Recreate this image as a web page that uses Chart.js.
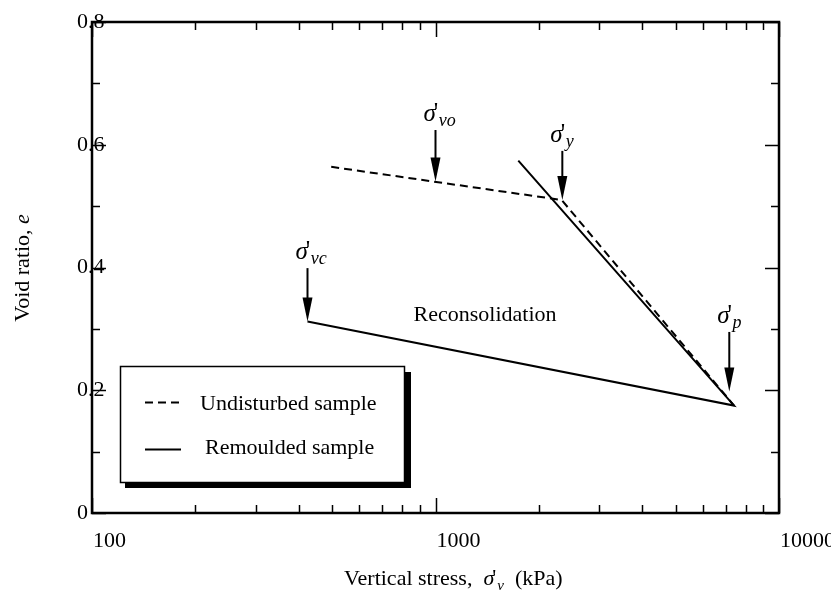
<!DOCTYPE html>
<html>
<head>
<meta charset="utf-8">
<script src="https://cdn.jsdelivr.net/npm/chart.js@4"></script>
<style>
  html, body { margin: 0; padding: 0; background: #fff; }
  #wrap { width: 831px; height: 594px; position: relative; }
</style>
</head>
<body>
<div id="wrap"><canvas id="grafico"></canvas></div>
<script>
// datos
const undisturbedX = [497, 2330, 7400];
const undisturbedY = [0.564, 0.510, 0.175];
const remouldedX = [1742, 7400, 424];
const remouldedY = [0.574, 0.175, 0.312];

const xTicks = [100, 1000, 10000];
const xTickLabels = ['100', '1000', '10000'];
const xMinor = [200, 300, 400, 500, 600, 700, 800, 900, 2000, 3000, 4000, 5000, 6000, 7000, 8000, 9000];
const yTicks = [0, 0.2, 0.4, 0.6, 0.8];
const yTickLabels = ['0', '0.2', '0.4', '0.6', '0.8'];
const yMinor = [0.1, 0.3, 0.5, 0.7];

// flechas: sigma'_sub
const arrowSubs = ['vo', 'y', 'vc', 'p'];
const arrowX = [1000, 2340, 424, 7166];
const arrowTipY = [0.540, 0.510, 0.312, 0.198];
const arrowTailY = [0.624, 0.590, 0.399, 0.295];

const SERIF = '"Liberation Serif", "DejaVu Serif", serif';

function puntos(xs, ys) {
    return xs.map((x, i) => ({ x: x, y: ys[i] }));
}

function dibujarSigma(ctx, x, y, sub, size) {
    ctx.textAlign = 'left';
    ctx.textBaseline = 'alphabetic';
    ctx.font = 'italic ' + size + 'px ' + SERIF;
    ctx.fillText('σ', x, y);
    const w = ctx.measureText('σ').width;
    ctx.font = size + 'px ' + SERIF;
    ctx.fillText('\'', x + w - 2, y - 1);
    ctx.font = 'italic ' + Math.round(size * 0.7) + 'px ' + SERIF;
    ctx.fillText(sub, x + w + 3, y + 5);
    return x + w + 3 + ctx.measureText(sub).width;
}

const marcoPlugin = {
    id: 'marco',
    afterDatasetsDraw(chart) {
        const ctx = chart.ctx;
        const xs = chart.scales.x;
        const ys = chart.scales.y;
        const a = chart.chartArea;
        ctx.save();
        ctx.fillStyle = '#000';
        ctx.strokeStyle = '#000';

        // marco
        ctx.lineWidth = 2.5;
        ctx.strokeRect(a.left, a.top, a.right - a.left, a.bottom - a.top);

        // marcas
        ctx.lineWidth = 1.5;
        ctx.beginPath();
        xMinor.forEach(v => {
            const px = Math.round(xs.getPixelForValue(v)) + 0.5;
            ctx.moveTo(px, a.bottom); ctx.lineTo(px, a.bottom - 8);
            ctx.moveTo(px, a.top); ctx.lineTo(px, a.top + 8);
        });
        xTicks.forEach(v => {
            const px = Math.round(xs.getPixelForValue(v)) + 0.5;
            ctx.moveTo(px, a.bottom); ctx.lineTo(px, a.bottom - 15);
            ctx.moveTo(px, a.top); ctx.lineTo(px, a.top + 15);
        });
        yMinor.forEach(v => {
            const py = Math.round(ys.getPixelForValue(v)) + 0.5;
            ctx.moveTo(a.left, py); ctx.lineTo(a.left + 8, py);
            ctx.moveTo(a.right, py); ctx.lineTo(a.right - 8, py);
        });
        yTicks.forEach(v => {
            const py = Math.round(ys.getPixelForValue(v)) + 0.5;
            ctx.moveTo(a.left, py); ctx.lineTo(a.left + 14, py);
            ctx.moveTo(a.right, py); ctx.lineTo(a.right - 14, py);
        });
        ctx.stroke();

        // etiquetas de ejes
        ctx.font = '22px ' + SERIF;
        ctx.textAlign = 'left';
        ctx.textBaseline = 'top';
        xTicks.forEach((v, i) => {
            ctx.fillText(xTickLabels[i], xs.getPixelForValue(v) + 1, a.bottom + 17);
        });
        ctx.textBaseline = 'middle';
        yTicks.forEach((v, i) => {
            ctx.fillText(yTickLabels[i], a.left - 15, ys.getPixelForValue(v));
        });

        // titulo eje x
        ctx.textBaseline = 'alphabetic';
        const partes1 = 'Vertical stress,  ';
        const partes2 = '  (kPa)';
        ctx.font = '22px ' + SERIF;
        const w1 = ctx.measureText(partes1).width;
        const w2 = ctx.measureText(partes2).width;
        ctx.font = 'italic 22px ' + SERIF;
        const ws = ctx.measureText('σ').width + 3 + 10;
        let x0 = 455 - (w1 + ws + w2) / 2;
        const yb = 585;
        ctx.font = '22px ' + SERIF;
        ctx.fillText(partes1, x0, yb);
        const xe = dibujarSigma(ctx, x0 + w1, yb, 'v', 22);
        ctx.font = '22px ' + SERIF;
        ctx.fillText(partes2, xe, yb);

        // titulo eje y
        ctx.save();
        ctx.translate(29, 268);
        ctx.rotate(-Math.PI / 2);
        ctx.font = '22px ' + SERIF;
        const t1 = 'Void ratio, ';
        const wt1 = ctx.measureText(t1).width;
        ctx.font = 'italic 22px ' + SERIF;
        const wt2 = ctx.measureText('e').width;
        ctx.font = '22px ' + SERIF;
        ctx.fillText(t1, -(wt1 + wt2) / 2, 0);
        ctx.font = 'italic 22px ' + SERIF;
        ctx.fillText('e', -(wt1 + wt2) / 2 + wt1, 0);
        ctx.restore();

        // flechas
        arrowSubs.forEach((sub, i) => {
            const px = xs.getPixelForValue(arrowX[i]);
            const tip = ys.getPixelForValue(arrowTipY[i]);
            const tail = ys.getPixelForValue(arrowTailY[i]);
            ctx.lineWidth = 2;
            ctx.beginPath();
            ctx.moveTo(px, tail);
            ctx.lineTo(px, tip - 20);
            ctx.stroke();
            ctx.beginPath();
            ctx.moveTo(px - 5, tip - 24);
            ctx.lineTo(px + 5, tip - 24);
            ctx.lineTo(px, tip);
            ctx.closePath();
            ctx.fill();
            dibujarSigma(ctx, px - 12, tail - 9, sub, 25);
        });

        // texto
        ctx.font = '22px ' + SERIF;
        ctx.textAlign = 'center';
        ctx.textBaseline = 'middle';
        ctx.fillText('Reconsolidation', 485, 315);

        // leyenda
        ctx.fillStyle = '#000';
        ctx.fillRect(125, 482, 286, 6);
        ctx.fillRect(404, 372, 7, 116);
        ctx.fillStyle = '#fff';
        ctx.fillRect(121, 367, 283, 115);
        ctx.fillStyle = '#000';
        ctx.lineWidth = 1.5;
        ctx.strokeRect(120.5, 366.5, 284, 116);
        ctx.lineWidth = 2;
        ctx.beginPath();
        ctx.setLineDash([8, 5]);
        ctx.moveTo(145, 402.5); ctx.lineTo(184, 402.5);
        ctx.stroke();
        ctx.setLineDash([]);
        ctx.beginPath();
        ctx.moveTo(145, 449.5); ctx.lineTo(181, 449.5);
        ctx.stroke();
        ctx.textAlign = 'left';
        ctx.fillText('Undisturbed sample', 200, 404);
        ctx.fillText('Remoulded sample', 205, 448);
        ctx.restore();
    }
};

const ctx = document.getElementById('grafico').getContext('2d');
new Chart(ctx, {
    type: 'scatter',
    data: {
        datasets: [
            {
                label: 'Undisturbed sample',
                data: puntos(undisturbedX, undisturbedY),
                showLine: true,
                borderColor: '#000',
                borderWidth: 2,
                borderDash: [8, 5],
                pointRadius: 0,
                fill: false
            },
            {
                label: 'Remoulded sample',
                data: puntos(remouldedX, remouldedY),
                showLine: true,
                borderColor: '#000',
                borderWidth: 2,
                pointRadius: 0,
                fill: false
            }
        ]
    },
    options: {
        responsive: true,
        maintainAspectRatio: false,
        animation: false,
        layout: { padding: { left: 92, top: 22, right: 52, bottom: 81 } },
        plugins: { legend: { display: false }, tooltip: { enabled: false } },
        scales: {
            x: { type: 'logarithmic', min: 100, max: 10000, display: false },
            y: { type: 'linear', min: 0, max: 0.8, display: false }
        }
    },
    plugins: [marcoPlugin]
});
</script>
</body>
</html>
